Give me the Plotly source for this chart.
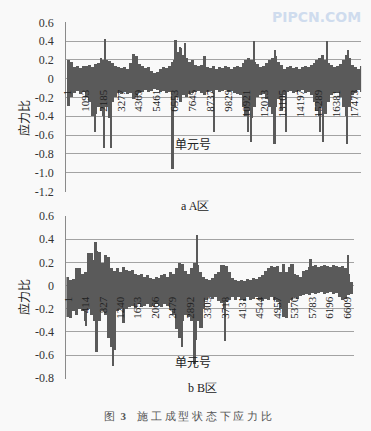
import plotly.graph_objects as go

# ---------------- A 区 data ----------------
a_tick_vals = [1, 1093, 2185, 3277, 4369, 5461, 6553, 7645, 8737, 9829,
               10921, 12013, 13105, 14197, 15289, 16381, 17473]
a_bins = list(range(90, 18000, 180))  # element-number bins (180 elements each)
a_upper = [0.2, 0.18, 0.12, 0.13, 0.11, 0.13, 0.13, 0.14, 0.12, 0.15,
           0.17, 0.22, 0.2, 0.2, 0.19, 0.17, 0.13, 0.12, 0.11, 0.12,
           0.1, 0.17, 0.26, 0.24, 0.15, 0.13, 0.11, 0.12, 0.08, 0.06,
           0.07, 0.1, 0.12, 0.11, 0.13, 0.18, 0.2, 0.28, 0.32, 0.25,
           0.22, 0.18, 0.2, 0.14, 0.13, 0.14, 0.24, 0.12, 0.11, 0.13,
           0.1, 0.12, 0.11, 0.13, 0.12, 0.1, 0.12, 0.13, 0.12, 0.16,
           0.2, 0.22, 0.2, 0.18, 0.15, 0.12, 0.13, 0.16, 0.2, 0.22,
           0.24, 0.18, 0.14, 0.1, 0.12, 0.13, 0.11, 0.12, 0.1, 0.12,
           0.13, 0.12, 0.14, 0.17, 0.2, 0.22, 0.25, 0.2, 0.16, 0.14,
           0.12, 0.13, 0.15, 0.2, 0.25, 0.22, 0.14, 0.12, 0.1, 0.13]
a_lower = [-0.29, -0.2, -0.15, -0.13, -0.17, -0.14, -0.2, -0.25, -0.4, -0.38,
           -0.3, -0.35, -0.4, -0.3, -0.42, -0.25, -0.2, -0.15, -0.17, -0.14,
           -0.16, -0.15, -0.22, -0.2, -0.15, -0.14, -0.12, -0.14, -0.13, -0.11,
           -0.12, -0.14, -0.13, -0.15, -0.14, -0.2, -0.3, -0.2, -0.25, -0.18,
           -0.2, -0.16, -0.15, -0.14, -0.13, -0.15, -0.18, -0.14, -0.13, -0.15,
           -0.12, -0.14, -0.13, -0.12, -0.14, -0.13, -0.15, -0.16, -0.18, -0.3,
           -0.4, -0.35, -0.42, -0.3, -0.2, -0.18, -0.16, -0.22, -0.3, -0.38,
           -0.3, -0.22, -0.35, -0.18, -0.14, -0.13, -0.15, -0.14, -0.13, -0.12,
           -0.15, -0.14, -0.18, -0.25, -0.35, -0.4, -0.3, -0.38, -0.25, -0.18,
           -0.15, -0.14, -0.2, -0.3, -0.4, -0.3, -0.18, -0.15, -0.12, -0.14]
a_spike_elems = [2340, 6618, 6900, 7182, 8340, 11400, 12660, 15820, 17100,
                 1740, 2262, 2718, 6438, 8940, 11022, 11220, 12642, 13362,
                 15420, 15618, 17058]
a_spike_vals = [0.42, 0.41, 0.34, 0.38, 0.24, 0.4, 0.3, 0.4, 0.3,
                -0.57, -0.74, -0.74, -0.96, -0.57, -0.57, -0.68, -0.7, -0.57,
                -0.57, -0.68, -0.7]

# ---------------- B 区 data ----------------
b_tick_vals = [1, 414, 827, 1240, 1653, 2066, 2479, 2892, 3305, 3718,
               4131, 4544, 4957, 5370, 5783, 6196, 6609]
b_bins = list(range(-5, 6750, 70))  # element-number bins (70 elements each)
b_upper = [0.08, 0.05, 0.06, 0.15, 0.15, 0.1, 0.12, 0.28, 0.28, 0.22,
           0.3, 0.29, 0.2, 0.27, 0.25, 0.15, 0.13, 0.15, 0.12, 0.16,
           0.14, 0.13, 0.14, 0.1, 0.09, 0.1, 0.08, 0.09, 0.07, 0.06,
           0.08, 0.07, 0.09, 0.1, 0.08, 0.12, 0.1, 0.15, 0.2, 0.19,
           0.13, 0.1, 0.15, 0.2, 0.18, 0.12, 0.08, 0.06, 0.05, 0.07,
           0.1, 0.12, 0.18, 0.18, 0.17, 0.12, 0.07, 0.05, 0.04, 0.05,
           0.04, 0.06, 0.05, 0.07, 0.06, 0.08, 0.09, 0.13, 0.15, 0.17,
           0.16, 0.17, 0.12, 0.14, 0.12, 0.16, 0.19, 0.1, 0.09, 0.08,
           0.13, 0.14, 0.16, 0.17, 0.18, 0.16, 0.17, 0.18, 0.17, 0.16,
           0.18, 0.17, 0.16, 0.17, 0.15, 0.1, 0.03]
b_lower = [-0.27, -0.28, -0.22, -0.25, -0.2, -0.22, -0.3, -0.2, -0.25, -0.3,
           -0.3, -0.3, -0.22, -0.25, -0.45, -0.53, -0.55, -0.22, -0.2, -0.32,
           -0.2, -0.18, -0.17, -0.19, -0.16, -0.18, -0.17, -0.16, -0.18, -0.17,
           -0.16, -0.17, -0.18, -0.16, -0.17, -0.2, -0.25, -0.37, -0.45, -0.3,
           -0.25, -0.27, -0.3, -0.45, -0.3, -0.36, -0.2, -0.12, -0.1, -0.11,
           -0.1, -0.13, -0.15, -0.2, -0.14, -0.12, -0.1, -0.12, -0.1, -0.11,
           -0.13, -0.1, -0.12, -0.11, -0.1, -0.12, -0.13, -0.11, -0.12, -0.1,
           -0.12, -0.14, -0.2, -0.27, -0.25, -0.15, -0.12, -0.1, -0.11, -0.09,
           -0.08, -0.07, -0.08, -0.06, -0.07, -0.06, -0.05, -0.07, -0.06, -0.05,
           -0.07, -0.06, -0.1, -0.12, -0.11, -0.08, -0.07]
b_spike_elems = [663, 3066, 5125, 5336, 5757, 6653,
                 438, 686, 1077, 1311, 2722, 3012, 3050, 3183, 3728, 5189]
b_spike_vals = [0.38, 0.44, 0.19, 0.19, 0.23, 0.27,
                -0.35, -0.57, -0.69, -0.32, -0.53, -0.67, -0.47, -0.36, -0.48, -0.28]

a_y_ticks = [0.6, 0.4, 0.2, 0, -0.2, -0.4, -0.6, -0.8, -1.0, -1.2]
a_y_text = ["0.6", "0.4", "0.2", "0", "-0.2", "-0.4", "-0.6", "-0.8", "-1.0", "-1.2"]
b_y_ticks = [0.6, 0.4, 0.2, 0, -0.2, -0.4, -0.6, -0.8]
b_y_text = ["0.6", "0.4", "0.2", "0", "-0.2", "-0.4", "-0.6", "-0.8"]

BAR = "#5a5a5a"
BG = "#f9f9f9"
GRID = "#a3a3a3"
SERIF = "Liberation Serif"
CJK = "Noto Sans CJK SC"

fig = go.Figure()

def add_bars(xs, ys, width, xa, ya):
    fig.add_trace(go.Bar(x=xs, y=ys, width=width, marker=dict(color=BAR, line=dict(width=0)),
                         xaxis=xa, yaxis=ya, showlegend=False, hoverinfo="skip"))

add_bars(a_bins, a_upper, 180, "x", "y")
add_bars(a_bins, a_lower, 180, "x", "y")
add_bars(a_spike_elems, a_spike_vals, 100, "x", "y")
add_bars(b_bins, b_upper, 70, "x2", "y2")
add_bars(b_bins, b_lower, 70, "x2", "y2")
add_bars(b_spike_elems, b_spike_vals, 45, "x2", "y2")

H = 431.0
W = 371.0

a_ylo, a_yhi = -1.2, 0.6
b_ylo, b_yhi = -0.8, 0.6
a_dom = [1 - 190.7 / H, 1 - 15.7 / H]
b_dom = [1 - 384.0 / H, 1 - 215.7 / H]
a_xpos = a_dom[0] + (0 - a_ylo) / (a_yhi - a_ylo) * (a_dom[1] - a_dom[0])
b_xpos = b_dom[0] + (0 - b_ylo) / (b_yhi - b_ylo) * (b_dom[1] - b_dom[0])

xcommon = dict(showgrid=False, zeroline=False, showline=False, ticks="",
               tickangle=-90, tickformat="d",
               tickfont=dict(family=SERIF, size=11, color="#222"),
               anchor="free", ticklabelstandoff=8)
ycommon = dict(showgrid=True, gridcolor=GRID, gridwidth=1, zeroline=False,
               showline=True, linecolor="#8a8a8a", linewidth=1, ticks="",
               tickfont=dict(family=SERIF, size=12, color="#333"), ticklabelstandoff=9)

fig.update_layout(
    width=371, height=431, margin=dict(l=0, r=0, t=0, b=0),
    paper_bgcolor=BG, plot_bgcolor=BG, barmode="overlay", bargap=0,
    showlegend=False,
    xaxis=dict(domain=[62 / W, 361 / W], range=[-58, 17889], position=a_xpos,
               tickmode="array", tickvals=a_tick_vals, **xcommon),
    yaxis=dict(domain=a_dom, range=[a_ylo - 0.002, a_yhi + 0.002], anchor="x",
               tickmode="array", tickvals=a_y_ticks, ticktext=a_y_text, **ycommon),
    xaxis2=dict(domain=[62.3 / W, 354 / W], range=[-39, 6780], position=b_xpos,
                tickmode="array", tickvals=b_tick_vals, **xcommon),
    yaxis2=dict(domain=b_dom, range=[b_ylo - 0.002, b_yhi + 0.002], anchor="x2",
                tickmode="array", tickvals=b_y_ticks, ticktext=b_y_text, **ycommon),
)

def ann(text, x, y, size, family, color="#222", angle=0):
    fig.add_annotation(text=text, x=x / W, y=1 - y / H, xref="paper", yref="paper",
                       showarrow=False, textangle=angle, xanchor="center", yanchor="middle",
                       font=dict(family=family, size=size, color=color))

ann("应力比", 19, 115, 12, CJK, angle=-90)
ann("应力比", 19, 300, 12, CJK, angle=-90)
ann("单元号", 191, 141.5, 12, CJK)
ann("单元号", 191, 366.5, 12, CJK)
ann("a A区", 193, 206, 12, SERIF)
ann("b B区", 200, 394, 12, SERIF)
ann("图  <b>3</b>    施 工 成 型 状 态 下 应 力 比", 185, 423, 11, SERIF, color="#555")
ann("<b>PIPCN.COM</b>", 316, 10, 14, "DejaVu Sans", color="#cfdcee")

fig.write_html("out.html")
